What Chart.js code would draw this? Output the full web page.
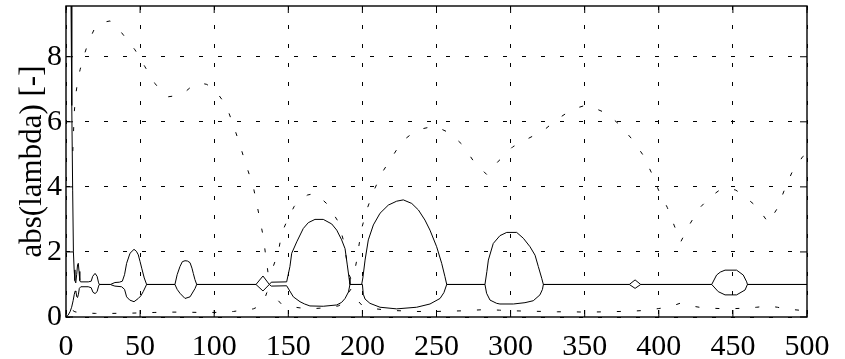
<!DOCTYPE html>
<html>
<head>
<meta charset="utf-8">
<script src="https://cdn.jsdelivr.net/npm/chart.js@4.4.0/dist/chart.umd.min.js"></script>
<style>
  html, body { margin: 0; padding: 0; background: #fff; }
  #wrap { width: 845px; height: 359px; }
</style>
</head>
<body>
<div id="wrap"><canvas id="lambdaChart"></canvas></div>
<script>
// axis ticks
const xTicks = [0, 50, 100, 150, 200, 250, 300, 350, 400, 450, 500];
const yTicks = [0, 2, 4, 6, 8];
const yTop = 9.56;

// |lambda| branches, [x, y]
const upperSolid = [
  [2.5, 14], [3.4, 9.6], [3.9, 6.5], [4.5, 3.9], [5.0, 2.0], [5.5, 1.45], [6.0, 1.12], [6.6, 1.05],
  [7.2, 1.3], [7.8, 1.6], [8.3, 1.65], [8.8, 1.4], [9.3, 1.12], [9.8, 1.08], [15, 1.08], [17, 1.1],
  [18, 1.25], [19.6, 1.34], [21, 1.25], [22, 1.05], [22.5, 1.0], [30, 1.0], [31, 1.02], [33, 1.06],
  [36, 1.07], [38, 1.1], [39.5, 1.3], [40.9, 1.65], [43.2, 1.96], [45.9, 2.08], [47.5, 2.02], [48.8, 1.91],
  [50, 1.7], [51.1, 1.5], [52.8, 1.2], [54.4, 1.0], [73.5, 1.0], [75, 1.3], [76.9, 1.55], [78.5, 1.7],
  [80.3, 1.73], [82, 1.72], [83.7, 1.67], [85, 1.5], [85.9, 1.34], [87, 1.15], [88.2, 1.0], [128.2, 1.0],
  [132.9, 1.26], [137.2, 1.0], [138.5, 1.07], [148.9, 1.08], [151.1, 1.55], [152.3, 1.96], [155.7, 2.31],
  [160.1, 2.72], [163.5, 2.9], [168, 3.0], [173.6, 3.0], [179.3, 2.86], [182.7, 2.67], [186, 2.37],
  [188.3, 2.1], [189.8, 1.6], [191, 1.2], [191.6, 1.0], [199.5, 1.0], [200.3, 1.2], [201.8, 1.75],
  [204, 2.37], [207.4, 2.83], [211.9, 3.19], [217.5, 3.44], [223.1, 3.56], [227.6, 3.6], [233.3, 3.49],
  [237.8, 3.29], [242.2, 2.98], [245.6, 2.67], [250.1, 2.16], [253.5, 1.65], [255.7, 1.24], [256.9, 1.0],
  [282.7, 1.0], [284, 1.4], [285, 1.75], [288.3, 2.26], [292.8, 2.5], [297.4, 2.6], [304.1, 2.6],
  [308.6, 2.42], [313.1, 2.16], [316.5, 1.9], [318.7, 1.55], [321, 1.19], [322.1, 1.0], [380.1, 1.0],
  [384, 1.14], [387.8, 1.0], [435.7, 1.0], [439, 1.29], [441.5, 1.38], [444.7, 1.44], [452.5, 1.44],
  [457, 1.29], [459.3, 1.08], [459.8, 1.0], [500, 1.0]
];

const lowerSolid = [
  [0, 0], [1.3, 0.05], [2.7, 0.16], [3.8, 0.3], [4.8, 0.5], [5.6, 0.7], [6.2, 0.8], [6.7, 0.78],
  [7.3, 0.62], [7.8, 0.6], [8.4, 0.7], [9.0, 0.88], [10, 0.93], [15, 0.93], [17, 0.9], [18.2, 0.76],
  [19.6, 0.72], [21, 0.78], [22, 0.95], [22.5, 1.0], [30, 1.0], [31, 0.98], [33, 0.95], [37.5, 0.93],
  [39.5, 0.85], [40.9, 0.62], [43, 0.52], [45.9, 0.47], [48.8, 0.57], [50.5, 0.65], [52.1, 0.78],
  [54.4, 1.0], [73.5, 1.0], [75, 0.85], [76.9, 0.73], [80.3, 0.57], [83.7, 0.62], [87, 0.87], [88.2, 1.0],
  [128.2, 1.0], [132.9, 0.8], [137.2, 1.0], [138.5, 0.95], [148.9, 0.96], [151, 0.8], [153.4, 0.62],
  [157.9, 0.47], [161, 0.4], [164.6, 0.34], [173.6, 0.33], [182.7, 0.37], [186, 0.45], [188.3, 0.57],
  [190.6, 0.77], [191.6, 1.0], [200, 1.0], [200.6, 0.7], [201.8, 0.55], [205.1, 0.42], [211.9, 0.3],
  [223.1, 0.25], [236.6, 0.3], [245.6, 0.4], [252.4, 0.57], [255, 0.75], [256.9, 1.0], [282.7, 1.0],
  [283.8, 0.73], [286.1, 0.52], [290.6, 0.42], [292.8, 0.4], [301.9, 0.4], [309.7, 0.44], [315.3, 0.5],
  [319.8, 0.68], [321.5, 0.85], [322.1, 1.0], [380.1, 1.0], [384, 0.88], [387.8, 1.0], [435.7, 1.0],
  [440.1, 0.78], [444.7, 0.68], [452.5, 0.68], [458.2, 0.83], [459.8, 1.0], [500, 1.0]
];

const upperDotted = [
  [4.6, 5.1], [5.0, 5.6], [5.6, 6.3], [6.5, 6.8], [8.0, 7.3], [9.5, 7.6], [11.2, 7.9], [15.1, 8.45],
  [19.6, 8.9], [24, 9.05], [29.7, 9.1], [33, 9.0], [38.7, 8.67], [46.6, 8.21], [53.3, 7.69], [60, 7.18],
  [65, 6.9], [69, 6.77], [74, 6.8], [79.2, 6.87], [85, 7.1], [90, 7.2], [95, 7.15], [100.5, 6.98],
  [105, 6.7], [108.4, 6.46], [112.9, 5.9], [117, 5.34], [121.2, 4.72], [126.4, 4.0], [130.4, 3.1],
  [133.1, 2.47], [135, 1.8], [136.5, 1.3], [137.5, 1.25], [138.6, 1.4], [141, 1.7], [143.3, 2.0],
  [145.5, 2.57], [150, 3.05], [154, 3.4], [157.9, 3.6], [163, 3.75], [168, 3.8], [172, 3.65], [177, 3.44],
  [180, 3.2], [183.7, 2.93], [187.1, 2.37], [189.4, 1.75], [190.5, 1.35], [192.5, 1.15], [194, 1.25],
  [196, 1.7], [197.5, 2.15], [199.5, 2.72], [202.9, 3.29], [207.4, 3.85], [213, 4.42], [219.8, 4.9],
  [226.5, 5.39], [236.6, 5.75], [249, 5.87], [259.1, 5.65], [267.6, 5.29], [275.3, 4.77], [283.9, 4.38],
  [292.4, 4.82], [301.4, 5.23], [312, 5.49], [322.1, 5.73], [331.5, 6.08], [341.5, 6.38], [350, 6.5],
  [353.6, 6.48], [364.8, 6.26], [373.8, 5.9], [382.4, 5.44], [389.5, 4.97], [395.2, 4.42], [400, 3.88],
  [405.7, 3.37], [410.5, 2.8], [414.8, 2.31], [420.6, 2.83], [427.3, 3.34], [435, 3.7], [441, 3.9],
  [446.9, 3.96], [452, 3.9], [457.5, 3.72], [466.1, 3.39], [470, 3.15], [473.9, 2.9], [480, 3.34],
  [484.7, 3.9], [489.7, 4.43], [497.1, 4.93], [500, 5.0]
];

const lowerDotted = [
  [4.6, 0.2], [6, 0.16], [10, 0.13], [20, 0.11], [30, 0.11], [45, 0.12], [60, 0.14], [70, 0.15],
  [80, 0.15], [90, 0.14], [100, 0.14], [108, 0.15], [113, 0.17], [117.4, 0.2], [121, 0.21], [126.4, 0.25],
  [129.8, 0.32], [132, 0.4], [134, 0.55], [135.5, 0.75], [136.8, 0.8], [138, 0.72], [141.5, 0.6],
  [143.3, 0.5], [145.5, 0.39], [150, 0.33], [157.9, 0.28], [168, 0.26], [177, 0.29], [183.7, 0.34],
  [187.1, 0.42], [189.4, 0.57], [190.5, 0.74], [192.5, 0.87], [194, 0.8], [196, 0.59], [197.5, 0.47],
  [199.5, 0.37], [202.9, 0.3], [207.4, 0.26], [213, 0.23], [219.8, 0.2], [226.5, 0.19], [236.6, 0.17],
  [249, 0.17], [259.1, 0.18], [267.6, 0.19], [275.3, 0.21], [283.9, 0.23], [292.4, 0.21], [301.4, 0.19],
  [312, 0.18], [322.1, 0.17], [331.5, 0.16], [341.5, 0.16], [350, 0.15], [364.8, 0.16], [373.8, 0.17],
  [382.4, 0.18], [389.5, 0.2], [395.2, 0.23], [400, 0.26], [405.7, 0.3], [410.5, 0.36], [414.8, 0.43],
  [420.6, 0.35], [427.3, 0.3], [435, 0.27], [441, 0.26], [446.9, 0.25], [452, 0.26], [457.5, 0.27],
  [466.1, 0.3], [473.9, 0.34], [480, 0.3], [484.7, 0.26], [489.7, 0.23], [497.1, 0.2], [500, 0.2]
];

const toPoints = arr => arr.map(p => ({ x: p[0], y: p[1] }));

// solid frame plus inward ticks, matlab style
const axesBox = {
  id: 'axesBox',
  afterDatasetsDraw(chart) {
    const { ctx, chartArea: a, scales: { x, y } } = chart;
    const len = 7;
    ctx.save();
    ctx.setLineDash([]);
    ctx.strokeStyle = '#000';
    ctx.lineWidth = 1;
    ctx.beginPath();
    xTicks.forEach(v => {
      const px = x.getPixelForValue(v);
      ctx.moveTo(px, a.bottom); ctx.lineTo(px, a.bottom - len);
      ctx.moveTo(px, a.top); ctx.lineTo(px, a.top + len);
    });
    yTicks.forEach(v => {
      const py = y.getPixelForValue(v);
      ctx.moveTo(a.left, py); ctx.lineTo(a.left + len, py);
      ctx.moveTo(a.right, py); ctx.lineTo(a.right - len, py);
    });
    ctx.stroke();
    ctx.lineWidth = 1.4;
    ctx.strokeRect(a.left, a.top, a.right - a.left, a.bottom - a.top);
    ctx.restore();
  }
};

// keep the plot box where the original has it, no extra room for edge labels
const fixBox = size => s => {
  if (s.isHorizontal()) s.height = size; else s.width = size;
  s.paddingTop = 0; s.paddingBottom = 0; s.paddingLeft = 0; s.paddingRight = 0;
};

Chart.defaults.font.family = "'Liberation Serif', 'Times New Roman', serif";
Chart.defaults.color = '#000';

const solid = { borderColor: '#000', borderWidth: 1, pointRadius: 0, tension: 0, fill: false };
const dotted = { ...solid, borderDash: [4, 16] };

new Chart(document.getElementById('lambdaChart'), {
  type: 'line',
  data: {
    datasets: [
      { ...solid, label: 'upper', data: toPoints(upperSolid) },
      { ...solid, label: 'lower', data: toPoints(lowerSolid) },
      { ...dotted, label: 'upper dotted', data: toPoints(upperDotted) },
      { ...dotted, label: 'lower dotted', data: toPoints(lowerDotted) }
    ]
  },
  options: {
    responsive: true,
    maintainAspectRatio: false,
    animation: false,
    layout: { padding: { top: 6, right: 38, left: 0, bottom: 0 } },
    plugins: { legend: { display: false }, tooltip: { enabled: false } },
    scales: {
      x: {
        type: 'linear',
        min: 0,
        max: 500,
        afterBuildTicks: s => { s.ticks = xTicks.map(v => ({ value: v })); },
        afterFit: fixBox(42),
        grid: { color: '#000', lineWidth: 1, drawTicks: false },
        border: { display: false, dash: [4, 15] },
        ticks: { font: { size: 30 }, padding: 12, maxRotation: 0 }
      },
      y: {
        type: 'linear',
        min: 0,
        max: yTop,
        afterBuildTicks: s => { s.ticks = yTicks.map(v => ({ value: v })); },
        afterFit: fixBox(66),
        grid: { color: '#000', lineWidth: 1, drawTicks: false },
        border: { display: false, dash: [4, 15] },
        ticks: { font: { size: 30 }, padding: 4 },
        title: {
          display: true,
          text: 'abs(lambda) [-]',
          font: { size: 31 },
          padding: { top: 14, bottom: 0 }
        }
      }
    }
  },
  plugins: [axesBox]
});
</script>
</body>
</html>
